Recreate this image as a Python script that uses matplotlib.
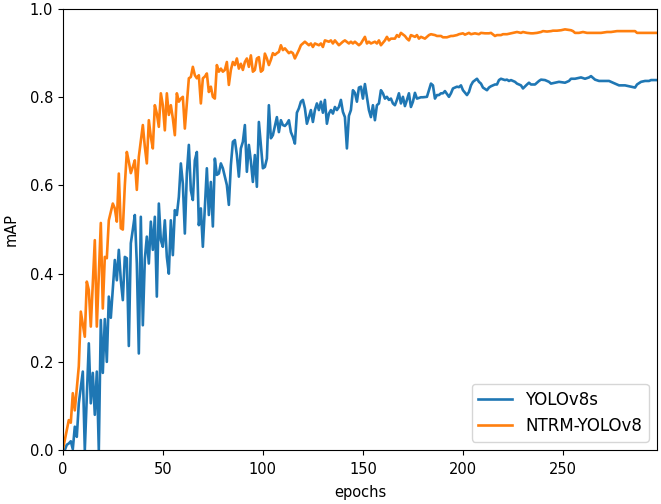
import matplotlib
matplotlib.use("Agg")
import matplotlib.pyplot as plt

# values, (epoch, mAP) pairs
ntrm_epochs = [0, 2, 3, 4, 5, 6, 8, 9, 11, 12, 13, 14, 16, 17, 19, 20, 21, 22, 23, 25,
               26, 27, 28, 29, 30, 31, 32, 33, 34, 35, 36, 37, 38, 40, 41, 42, 43, 44, 45, 46,
               47, 48, 49, 50, 51, 52, 53, 54, 55, 56, 57, 58, 59, 60, 61, 63, 64, 65, 66, 67,
               68, 69, 70, 71, 72, 73, 74, 75, 76, 77, 78, 79, 80, 81, 82, 83, 84, 85, 86, 87,
               88, 89, 90, 91, 92, 93, 94, 95, 96, 97, 98, 99, 100, 101, 102, 103, 104, 105, 106, 107,
               108, 109, 110, 111, 113, 114, 115, 116, 118, 119, 120, 121, 123, 124, 125, 126, 128, 129, 130, 131,
               133, 134, 135, 136, 138, 139, 140, 141, 143, 144, 145, 146, 148, 149, 151, 152, 153, 154, 156, 157,
               158, 159, 161, 162, 163, 164, 166, 167, 168, 169, 171, 172, 173, 174, 176, 177, 178, 179, 181, 182,
               183, 184, 186, 187, 189, 190, 192, 194, 195, 197, 198, 200, 201, 203, 204, 206, 208, 209, 211, 213,
               214, 216, 217, 219, 220, 222, 224, 225, 227, 229, 230, 232, 234, 235, 237, 239, 240, 242, 244, 245,
               247, 249, 251, 254, 255, 256, 258, 260, 262, 264, 267, 269, 272, 274, 277, 279, 282, 284, 286, 287,
               289, 291, 294, 297]
ntrm_map = [0.0, 0.045, 0.068, 0.062, 0.129, 0.09, 0.19, 0.314, 0.257, 0.382, 0.363, 0.28, 0.476, 0.28, 0.515, 0.321, 0.438, 0.435, 0.521, 0.559,
            0.548, 0.518, 0.627, 0.503, 0.50, 0.60, 0.676, 0.654, 0.628, 0.642, 0.657, 0.59, 0.665, 0.737, 0.688, 0.650, 0.748, 0.71, 0.684, 0.782,
            0.763, 0.733, 0.809, 0.782, 0.725, 0.809, 0.760, 0.782, 0.752, 0.714, 0.809, 0.79, 0.797, 0.801, 0.729, 0.843, 0.846, 0.869, 0.85, 0.843,
            0.850, 0.786, 0.843, 0.847, 0.854, 0.812, 0.824, 0.801, 0.797, 0.873, 0.858, 0.865, 0.858, 0.862, 0.88, 0.828, 0.862, 0.88, 0.873, 0.888,
            0.865, 0.876, 0.862, 0.88, 0.888, 0.869, 0.895, 0.858, 0.862, 0.888, 0.891, 0.858, 0.862, 0.899, 0.888, 0.873, 0.885, 0.90, 0.896, 0.9,
            0.903, 0.918, 0.907, 0.911, 0.9, 0.903, 0.9, 0.888, 0.907, 0.918, 0.922, 0.926, 0.918, 0.922, 0.914, 0.922, 0.918, 0.922, 0.914, 0.929,
            0.926, 0.929, 0.922, 0.929, 0.918, 0.922, 0.926, 0.929, 0.922, 0.926, 0.922, 0.926, 0.918, 0.922, 0.937, 0.922, 0.926, 0.922, 0.926, 0.922,
            0.929, 0.918, 0.929, 0.937, 0.929, 0.933, 0.933, 0.941, 0.937, 0.946, 0.939, 0.933, 0.929, 0.941, 0.937, 0.941, 0.933, 0.937, 0.933, 0.937,
            0.941, 0.943, 0.941, 0.939, 0.939, 0.936, 0.936, 0.939, 0.939, 0.941, 0.943, 0.945, 0.942, 0.946, 0.943, 0.945, 0.943, 0.946, 0.945, 0.945,
            0.946, 0.939, 0.941, 0.941, 0.943, 0.943, 0.945, 0.946, 0.948, 0.946, 0.948, 0.946, 0.945, 0.945, 0.946, 0.948, 0.95, 0.949, 0.95, 0.951,
            0.951, 0.952, 0.954, 0.952, 0.95, 0.946, 0.946, 0.948, 0.946, 0.946, 0.946, 0.946, 0.948, 0.948, 0.95, 0.95, 0.95, 0.95, 0.95, 0.946,
            0.946, 0.946, 0.946, 0.946]

yolo_epochs = [0, 1, 2, 3, 4, 5, 6, 7, 8, 10, 11, 13, 14, 15, 16, 17, 18, 19, 20, 21,
               22, 23, 24, 26, 27, 28, 29, 30, 31, 32, 33, 34, 35, 36, 37, 38, 39, 40, 41, 42,
               43, 44, 45, 46, 47, 48, 49, 50, 51, 52, 53, 54, 55, 56, 57, 58, 59, 60, 61, 62,
               63, 64, 65, 66, 67, 68, 69, 70, 71, 72, 73, 74, 75, 76, 77, 78, 79, 80, 82, 83,
               84, 85, 86, 87, 88, 89, 90, 91, 92, 93, 94, 95, 96, 97, 98, 99, 100, 101, 102, 103,
               104, 105, 106, 107, 108, 109, 110, 111, 112, 113, 114, 115, 116, 117, 118, 119, 120, 121, 122, 123,
               124, 125, 126, 127, 128, 129, 130, 131, 132, 133, 134, 135, 136, 137, 138, 139, 140, 141, 142, 143,
               144, 145, 146, 147, 148, 149, 150, 151, 152, 153, 154, 155, 156, 157, 158, 159, 160, 161, 162, 163,
               164, 165, 166, 167, 168, 169, 170, 171, 172, 173, 174, 175, 176, 177, 179, 180, 182, 183, 184, 185,
               186, 187, 188, 189, 190, 191, 193, 194, 195, 196, 197, 198, 199, 200, 202, 203, 204, 205, 207, 208,
               209, 210, 212, 213, 214, 216, 217, 218, 219, 221, 222, 223, 224, 226, 227, 228, 229, 230, 232, 233,
               234, 236, 237, 238, 239, 241, 242, 243, 244, 246, 247, 248, 251, 253, 254, 256, 258, 259, 261, 263,
               264, 266, 268, 269, 271, 273, 274, 276, 278, 279, 281, 283, 284, 286, 287, 289, 291, 293, 294, 297]
yolo_map = [0.0, 0.0, 0.012, 0.015, 0.02, 0.002, 0.053, 0.03, 0.106, 0.178, 0.0, 0.242, 0.106, 0.175, 0.08, 0.178, 0.0, 0.295, 0.175, 0.297,
            0.2, 0.348, 0.30, 0.431, 0.385, 0.454, 0.385, 0.34, 0.438, 0.435, 0.236, 0.469, 0.50, 0.533, 0.423, 0.219, 0.529, 0.283, 0.433, 0.484,
            0.423, 0.518, 0.454, 0.529, 0.348, 0.559, 0.476, 0.461, 0.521, 0.438, 0.4, 0.521, 0.442, 0.544, 0.533, 0.574, 0.65, 0.604, 0.491, 0.627,
            0.692, 0.589, 0.567, 0.657, 0.676, 0.51, 0.548, 0.461, 0.548, 0.639, 0.533, 0.608, 0.507, 0.661, 0.624, 0.627, 0.65, 0.639, 0.601, 0.556,
            0.646, 0.699, 0.703, 0.669, 0.62, 0.684, 0.699, 0.737, 0.631, 0.692, 0.655, 0.608, 0.669, 0.597, 0.744, 0.69, 0.639, 0.642, 0.661, 0.782,
            0.707, 0.714, 0.735, 0.755, 0.721, 0.748, 0.737, 0.735, 0.74, 0.748, 0.721, 0.71, 0.695, 0.765, 0.775, 0.79, 0.794, 0.775, 0.74, 0.755,
            0.771, 0.744, 0.771, 0.786, 0.771, 0.79, 0.765, 0.794, 0.74, 0.763, 0.771, 0.763, 0.778, 0.771, 0.778, 0.794, 0.767, 0.755, 0.684, 0.758,
            0.771, 0.816, 0.81, 0.79, 0.822, 0.824, 0.797, 0.83, 0.801, 0.771, 0.755, 0.782, 0.748, 0.782, 0.786, 0.816, 0.809, 0.797, 0.801, 0.794,
            0.797, 0.786, 0.782, 0.794, 0.809, 0.786, 0.801, 0.78, 0.794, 0.809, 0.778, 0.79, 0.81, 0.797, 0.80, 0.80, 0.801, 0.816, 0.831, 0.827,
            0.797, 0.805, 0.805, 0.809, 0.809, 0.814, 0.801, 0.809, 0.82, 0.822, 0.824, 0.823, 0.827, 0.816, 0.805, 0.812, 0.827, 0.835, 0.842, 0.835,
            0.831, 0.822, 0.816, 0.822, 0.825, 0.829, 0.829, 0.839, 0.842, 0.839, 0.84, 0.837, 0.839, 0.835, 0.831, 0.829, 0.827, 0.82, 0.829, 0.833,
            0.829, 0.829, 0.833, 0.837, 0.84, 0.839, 0.837, 0.835, 0.831, 0.833, 0.834, 0.835, 0.833, 0.837, 0.842, 0.842, 0.844, 0.845, 0.842, 0.845,
            0.848, 0.84, 0.837, 0.837, 0.837, 0.837, 0.835, 0.831, 0.827, 0.827, 0.827, 0.825, 0.824, 0.822, 0.829, 0.835, 0.837, 0.837, 0.839, 0.839]

fig = plt.figure(figsize=(6.61, 5.04), dpi=100)
ax = fig.add_axes([0.095, 0.107, 0.899, 0.875])
ax.plot(yolo_epochs, yolo_map, color="#1f77b4", lw=1.9, label="YOLOv8s")
ax.plot(ntrm_epochs, ntrm_map, color="#ff7f0e", lw=1.9, label="NTRM-YOLOv8")
ax.set_xlim(0, 297)
ax.set_ylim(0, 1.0)
ax.tick_params(axis="both", labelsize=10.5)
ax.tick_params(axis="x", pad=5)
ax.set_xlabel("epochs", fontsize=10.5, labelpad=6)
ax.set_ylabel("mAP", fontsize=10.5, labelpad=8)
ax.legend(loc="lower right", fontsize=12)
fig.savefig("out.png")
